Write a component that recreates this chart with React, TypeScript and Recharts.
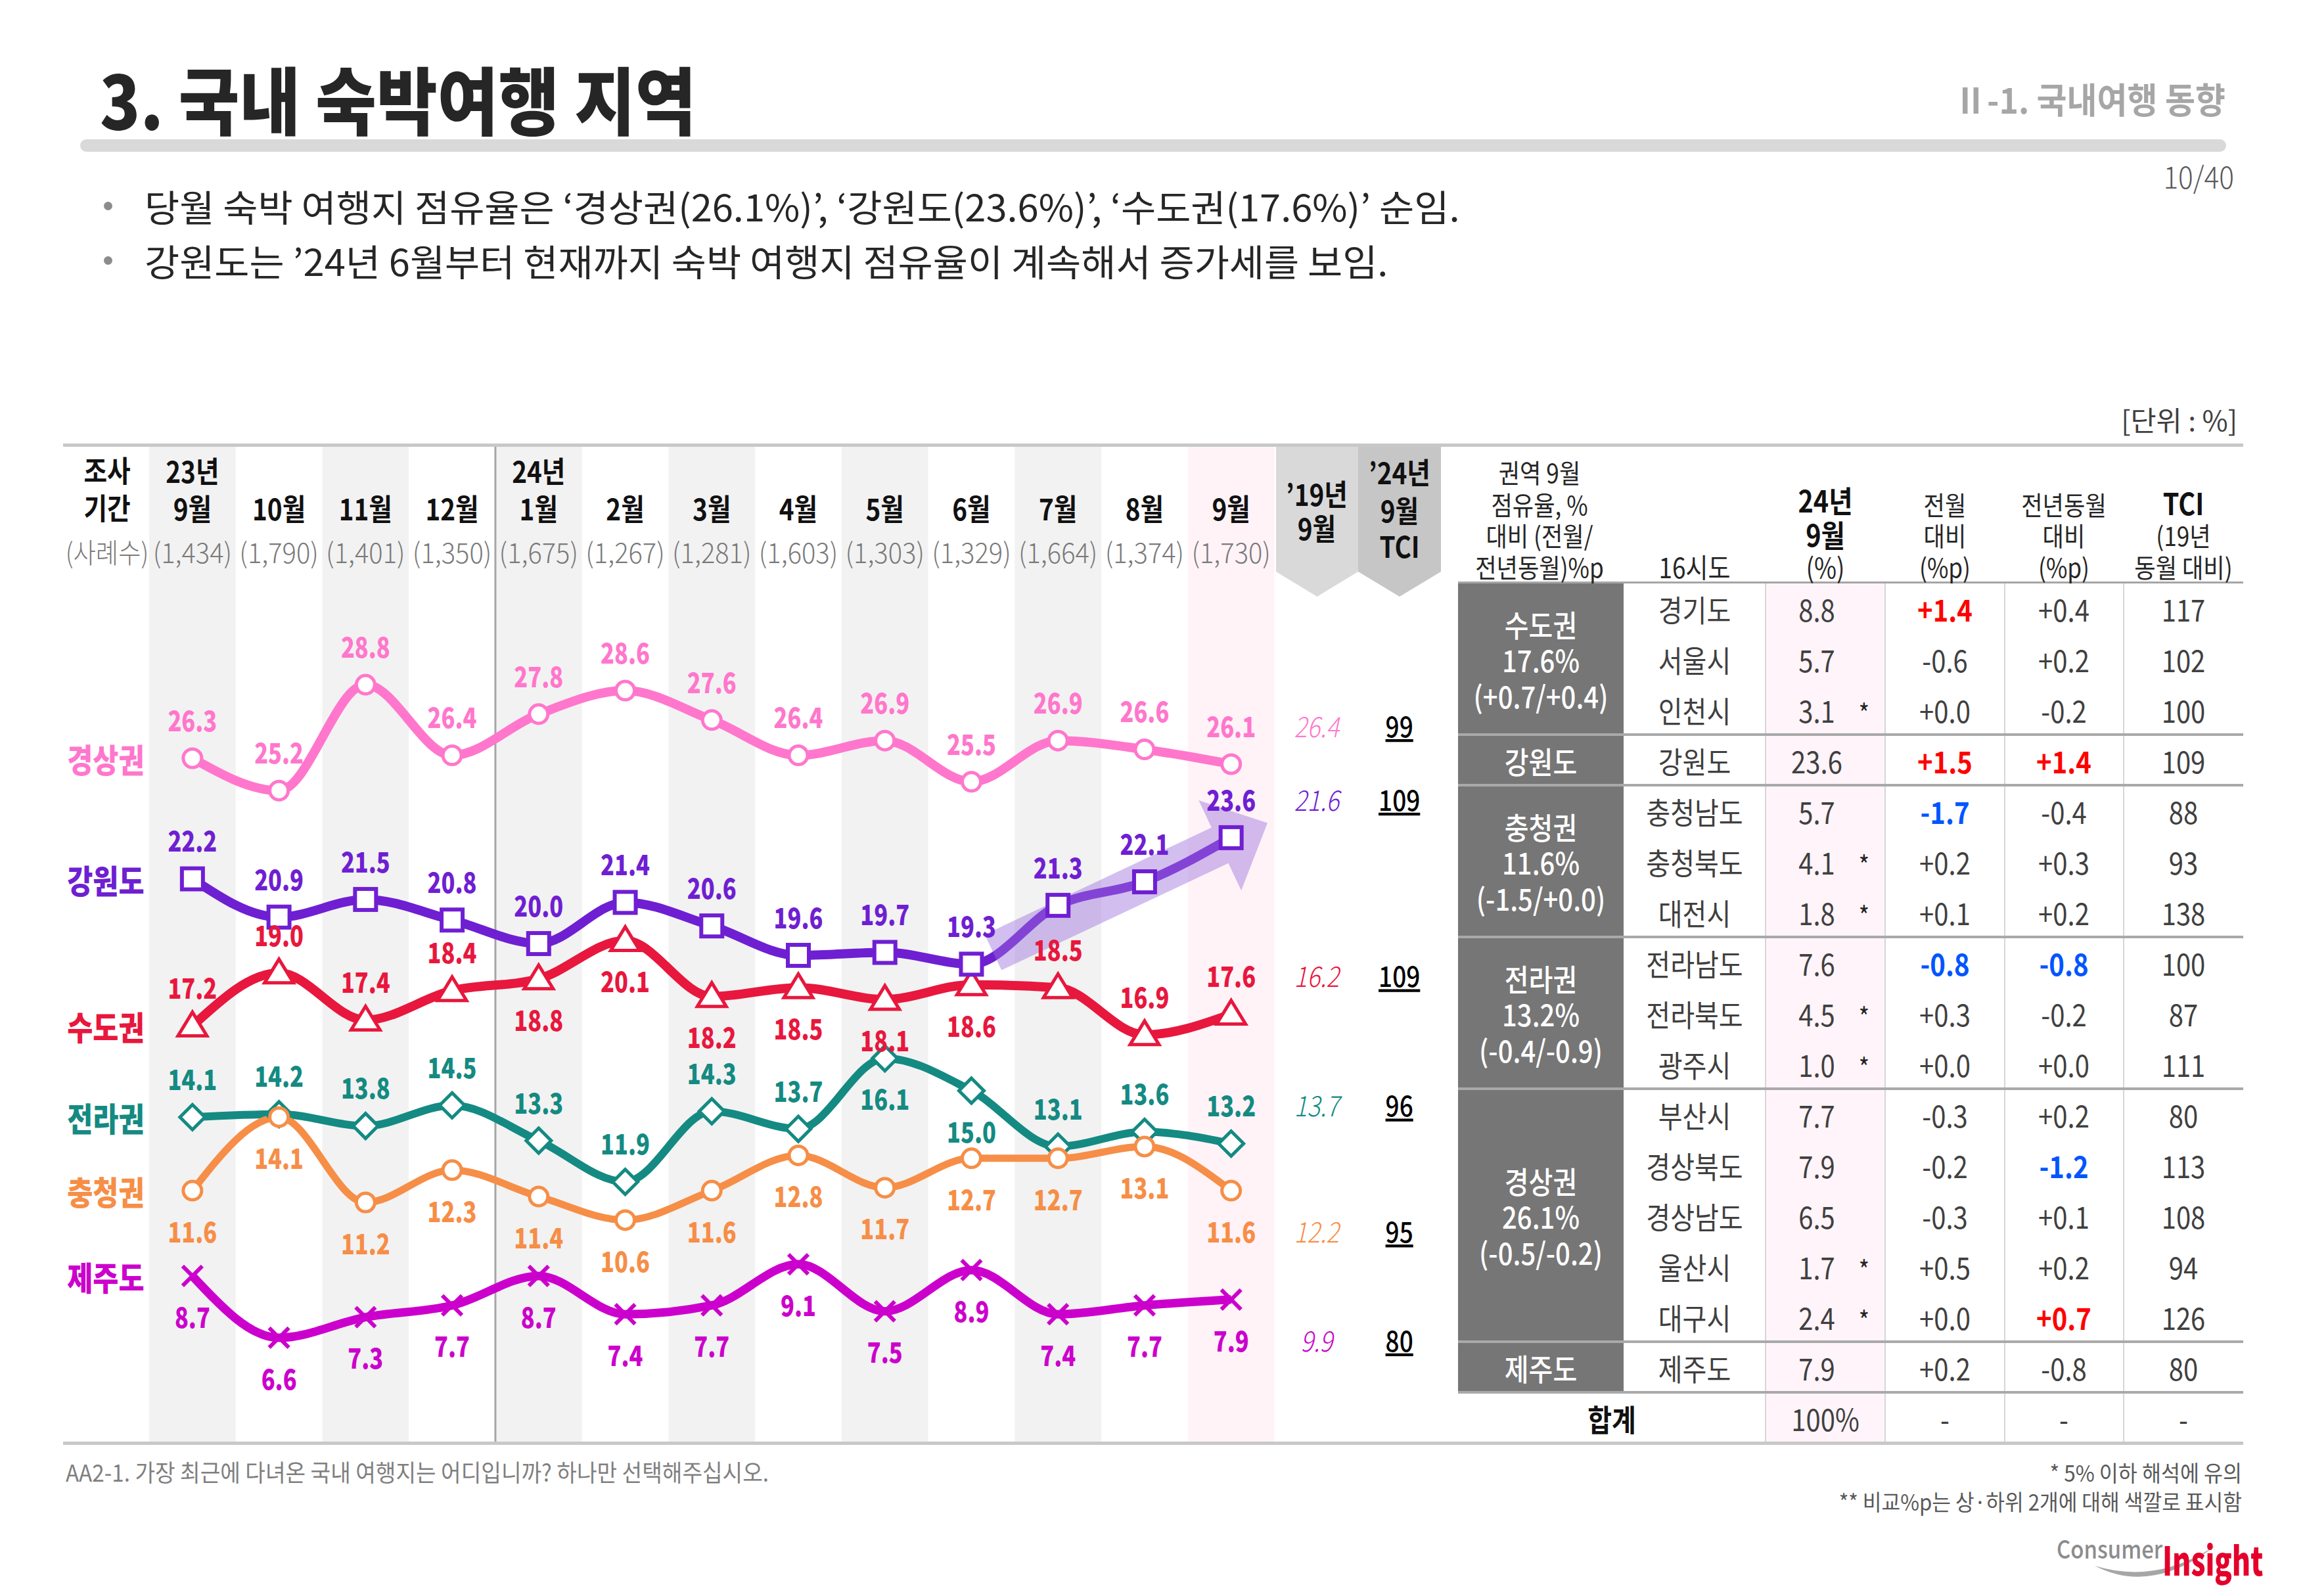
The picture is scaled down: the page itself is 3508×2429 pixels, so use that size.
import { useLayoutEffect, useRef, useState } from 'react';
import { LineChart, Line, XAxis, YAxis, ReferenceArea, ReferenceLine } from 'recharts';

// ---- chart data (23년 9월 ~ 24년 9월) ----
const months = ['9월', '10월', '11월', '12월', '1월', '2월', '3월', '4월', '5월', '6월', '7월', '8월', '9월'];
const yearTags = ['23년', '', '', '', '24년', '', '', '', '', '', '', '', ''];
const sampleSizes = ['(1,434)', '(1,790)', '(1,401)', '(1,350)', '(1,675)', '(1,267)', '(1,281)', '(1,603)', '(1,303)', '(1,329)', '(1,664)', '(1,374)', '(1,730)'];

const gyeongsang = [26.3, 25.2, 28.8, 26.4, 27.8, 28.6, 27.6, 26.4, 26.9, 25.5, 26.9, 26.6, 26.1];
const gangwon = [22.2, 20.9, 21.5, 20.8, 20.0, 21.4, 20.6, 19.6, 19.7, 19.3, 21.3, 22.1, 23.6];
const sudo = [17.2, 19.0, 17.4, 18.4, 18.8, 20.1, 18.2, 18.5, 18.1, 18.6, 18.5, 16.9, 17.6];
const jeolla = [14.1, 14.2, 13.8, 14.5, 13.3, 11.9, 14.3, 13.7, 16.1, 15.0, 13.1, 13.6, 13.2];
const chungcheong = [11.6, 14.1, 11.2, 12.3, 11.4, 10.6, 11.6, 12.8, 11.7, 12.7, 12.7, 13.1, 11.6];
const jeju = [8.7, 6.6, 7.3, 7.7, 8.7, 7.4, 7.7, 9.1, 7.5, 8.9, 7.4, 7.7, 7.9];

// '19년 9월 and '24년 9월 TCI, same order as the series below
const sep2019 = [26.4, 21.6, 16.2, 13.7, 12.2, 9.9];
const tci2024 = [99, 109, 109, 96, 95, 80];

// ---- table data ----
const groupNames = ['수도권', '강원도', '충청권', '전라권', '경상권', '제주도'];
const groupShares = ['17.6%', '', '11.6%', '13.2%', '26.1%', ''];
const groupChanges = ['(+0.7/+0.4)', '', '(-1.5/+0.0)', '(-0.4/-0.9)', '(-0.5/-0.2)', ''];
const groupSizes = [3, 1, 3, 3, 5, 1];
const provinces = ['경기도', '서울시', '인천시', '강원도', '충청남도', '충청북도', '대전시', '전라남도', '전라북도', '광주시', '부산시', '경상북도', '경상남도', '울산시', '대구시', '제주도'];
const provinceShare = [8.8, 5.7, 3.1, 23.6, 5.7, 4.1, 1.8, 7.6, 4.5, 1.0, 7.7, 7.9, 6.5, 1.7, 2.4, 7.9];
const lowBase = [0, 0, 1, 0, 0, 1, 1, 0, 1, 1, 0, 0, 0, 1, 1, 0];
const momChange = [1.4, -0.6, 0.0, 1.5, -1.7, 0.2, 0.1, -0.8, 0.3, 0.0, -0.3, -0.2, -0.3, 0.5, 0.0, 0.2];
const yoyChange = [0.4, 0.2, -0.2, 1.4, -0.4, 0.3, 0.2, -0.8, -0.2, 0.0, 0.2, -1.2, 0.1, 0.2, 0.7, -0.8];
const provinceTci = [117, 102, 100, 109, 88, 93, 138, 100, 87, 111, 80, 113, 108, 94, 126, 80];
const momMark = ['u', '', '', 'u', 'd', '', '', 'd', '', '', '', '', '', '', '', ''];
const yoyMark = ['', '', '', 'u', '', '', '', 'd', '', '', '', 'd', '', '', 'u', ''];

type Marker = 'circle' | 'square' | 'triangle' | 'diamond' | 'cross';
interface Series { key: string; name: string; values: number[]; color: string; width: number; marker: Marker; sides: string }

// sides: label above (u) or below (d) each point
const series: Series[] = [
  { key: 'gyeongsang', name: '경상권', values: gyeongsang, color: '#ff77cc', width: 14, marker: 'circle', sides: 'uuuuuuuuuuuuu' },
  { key: 'gangwon', name: '강원도', values: gangwon, color: '#6f1fd2', width: 14, marker: 'square', sides: 'uuuuuuuuuuuuu' },
  { key: 'sudo', name: '수도권', values: sudo, color: '#e8173d', width: 14, marker: 'triangle', sides: 'uuuudddddduuu' },
  { key: 'jeolla', name: '전라권', values: jeolla, color: '#148a82', width: 12, marker: 'diamond', sides: 'uuuuuuuudduuu' },
  { key: 'chungcheong', name: '충청권', values: chungcheong, color: '#f68e47', width: 11, marker: 'circle', sides: 'ddddddddddddd' },
  { key: 'jeju', name: '제주도', values: jeju, color: '#cc00cc', width: 13, marker: 'cross', sides: 'ddddddddddddd' },
];
// draw order: lower series first, orange above teal
const drawOrder = [3, 4, 2, 1, 0, 5];

const rows = months.map((m, i) => ({
  idx: i,
  month: m,
  gyeongsang: gyeongsang[i],
  gangwon: gangwon[i],
  sudo: sudo[i],
  jeolla: jeolla[i],
  chungcheong: chungcheong[i],
  jeju: jeju[i],
}));
const tickIdx = months.map((_, i) => i);
const grayBands = [0, 2, 4, 6, 8, 10];

const FONT = '"Noto Sans CJK KR", "Noto Sans", sans-serif';

// absolutely placed text, optionally squeezed to a target width
function Txt({ x, y, size, children, w, sx = 0.87, anchor = 'middle', weight = 400, color = '#262626', italic, underline }: {
  x: number; y: number; size: number; children: React.ReactNode; w?: number; sx?: number;
  anchor?: 'start' | 'middle' | 'end'; weight?: number; color?: string; italic?: boolean; underline?: boolean;
}) {
  const ref = useRef<HTMLDivElement>(null);
  const [k, setK] = useState(sx);
  useLayoutEffect(() => {
    if (w && ref.current) {
      const nat = ref.current.offsetWidth;
      if (nat > 0) setK(w / nat);
    }
  }, [w]);
  const tx = anchor === 'middle' ? '-50%' : anchor === 'end' ? '-100%' : '0';
  const origin = anchor === 'middle' ? 'center' : anchor === 'end' ? 'right' : 'left';
  return (
    <div
      ref={ref}
      style={{
        position: 'absolute', left: x, top: y, fontSize: size, lineHeight: 1, whiteSpace: 'nowrap',
        fontWeight: weight, color, fontStyle: italic ? 'italic' : 'normal',
        textDecoration: underline ? 'underline' : 'none',
        transform: `translate(${tx},-50%) scaleX(${k})`, transformOrigin: `${origin} center`,
      }}
    >
      {children}
    </div>
  );
}

function SvgText({ x, y, text, size, weight = 700, color, sx = 0.82, italic, underline }: {
  x: number; y: number; text: string; size: number; weight?: number; color: string; sx?: number; italic?: boolean; underline?: boolean;
}) {
  return (
    <g transform={`translate(${x},${y}) scale(${sx},1)`}>
      <text
        x={0} y={0} textAnchor="middle" dominantBaseline="central" fontSize={size} fontWeight={weight} fill={color}
        fontStyle={italic ? 'italic' : 'normal'} style={{ textDecoration: underline ? 'underline' : 'none' }}
      >
        {text}
      </text>
    </g>
  );
}

// month header drawn as the x-axis ticks (inside the plot, over the bands)
const HeaderTick = (p: any) => {
  const i = p.payload?.value as number;
  const x = p.x as number;
  if (months[i] === undefined) return <g />;
  return (
    <g>
      {yearTags[i] && <SvgText x={x} y={37} text={yearTags[i]} size={45} color="#111" sx={0.86} />}
      <SvgText x={x} y={94} text={months[i]} size={45} color="#111" sx={0.86} />
      <SvgText x={x} y={161} text={sampleSizes[i]} size={42} weight={300} color="#7a7a7a" sx={0.95} />
    </g>
  );
};

const markerFor = (s: Series) => (p: any) => {
  const { cx, cy, index } = p;
  const k = `m-${s.key}-${index}`;
  if (typeof cx !== 'number' || typeof cy !== 'number') return <g key={k} />;
  const c = s.color;
  switch (s.marker) {
    case 'square':
      return <rect key={k} x={cx - 16} y={cy - 16} width={32} height={32} fill="#fff" stroke={c} strokeWidth={6} />;
    case 'triangle':
      return <polygon key={k} points={`${cx},${cy - 21} ${cx + 22},${cy + 15} ${cx - 22},${cy + 15}`} fill="#fff" stroke={c} strokeWidth={5} />;
    case 'diamond':
      return <polygon key={k} points={`${cx},${cy - 19} ${cx + 19},${cy} ${cx},${cy + 19} ${cx - 19},${cy}`} fill="#fff" stroke={c} strokeWidth={5} />;
    case 'cross':
      return (
        <g key={k} stroke={c} strokeWidth={6}>
          <line x1={cx - 15} y1={cy - 15} x2={cx + 15} y2={cy + 15} />
          <line x1={cx - 15} y1={cy + 15} x2={cx + 15} y2={cy - 15} />
        </g>
      );
    default:
      return <circle key={k} cx={cx} cy={cy} r={14} fill="#fff" stroke={c} strokeWidth={5} />;
  }
};

const labelFor = (s: Series, si: number) => (p: any) => {
  const { cx, cy, index } = p;
  const k = `l-${s.key}-${index}`;
  if (typeof cx !== 'number' || typeof cy !== 'number') return <g key={k} />;
  const up = s.sides[index] === 'u';
  const ly = up ? cy - 60 : cy + 60;
  return (
    <g key={k}>
      <SvgText x={cx} y={ly} text={s.values[index].toFixed(1)} size={43} weight={800} color={s.color} sx={0.8} />
      {index === 0 && <SvgText x={cx - 132} y={cy} text={s.name} size={50} weight={800} color={s.color} sx={0.85} />}
      {index === months.length - 1 && (
        <>
          <SvgText x={cx + 130} y={ly} text={sep2019[si].toFixed(1)} size={43} weight={300} italic color={s.color} sx={0.86} />
          <SvgText x={cx + 256} y={ly} text={String(tci2024[si])} size={43} weight={500} underline color="#000" sx={0.86} />
        </>
      )}
    </g>
  );
};

const TrendArrow = (p: any) => {
  const { x1, y1, x2, y2 } = p;
  if ([x1, y1, x2, y2].some((v) => typeof v !== 'number')) return <g />;
  const len = Math.hypot(x2 - x1, y2 - y1);
  const ux = (x2 - x1) / len;
  const uy = (y2 - y1) / len;
  const nx = -uy;
  const ny = ux;
  const bw = 30, hw = 76, hl = 80;
  const bx = x2 - ux * hl;
  const by = y2 - uy * hl;
  const pts = [
    [x1 + nx * bw, y1 + ny * bw], [bx + nx * bw, by + ny * bw], [bx + nx * hw, by + ny * hw], [x2, y2],
    [bx - nx * hw, by - ny * hw], [bx - nx * bw, by - ny * bw], [x1 - nx * bw, y1 - ny * bw],
  ];
  return <polygon points={pts.map((q) => q.join(',')).join(' ')} fill="#9b70dc" fillOpacity={0.45} />;
};

const fmtSigned = (v: number) => (v >= 0 ? `+${v.toFixed(1)}` : v.toFixed(1));

// table geometry
const COLS = [2219, 2471, 2687, 2869, 3051, 3232, 3414];
const BODY_TOP = 887;
const ROW_H = 77;

function RegionTable() {
  const groupStarts = groupSizes.map((_, g) => groupSizes.slice(0, g).reduce((a, b) => a + b, 0));
  const rowY = (r: number) => BODY_TOP + r * ROW_H + ROW_H / 2;
  const cellColor = (m: string) => (m === 'u' ? '#ff0000' : m === 'd' ? '#0055ff' : '#404040');
  const totalRow = provinces.length;
  return (
    <>
      {/* pink current-month column */}
      <div style={{ position: 'absolute', left: COLS[2], top: BODY_TOP, width: COLS[3] - COLS[2], height: ROW_H * (totalRow + 1), background: '#fff4f9' }} />
      {/* region blocks */}
      {groupNames.map((g, gi) => (
        <div key={g} style={{ position: 'absolute', left: COLS[0], top: BODY_TOP + groupStarts[gi] * ROW_H, width: COLS[1] - COLS[0], height: groupSizes[gi] * ROW_H, background: '#767676' }} />
      ))}
      {/* vertical rules */}
      {COLS.slice(2, 6).map((x) => (
        <div key={x} style={{ position: 'absolute', left: x - 1, top: BODY_TOP, width: 2, height: ROW_H * (totalRow + 1), background: '#d6d6d6' }} />
      ))}
      {/* header rule and group rules */}
      <div style={{ position: 'absolute', left: COLS[0], top: BODY_TOP - 2, width: COLS[6] - COLS[0], height: 3, background: '#a6a6a6' }} />
      {groupSizes.map((_, gi) => (
        <div key={gi} style={{ position: 'absolute', left: COLS[0], top: BODY_TOP + (groupStarts[gi] + groupSizes[gi]) * ROW_H - 2, width: COLS[6] - COLS[0], height: 4, background: '#a9a9a9' }} />
      ))}

      {/* header */}
      <Txt x={2343} y={718} size={40} sx={0.88}>권역 9월</Txt>
      <Txt x={2343} y={767} size={40} sx={0.88}>점유율, %</Txt>
      <Txt x={2343} y={814} size={40} sx={0.88}>대비 (전월/</Txt>
      <Txt x={2343} y={862} size={40} sx={0.88}>전년동월)%p</Txt>
      <Txt x={2579} y={862} size={42} sx={0.88}>16시도</Txt>
      <Txt x={2778} y={760} size={46} weight={700} sx={0.86} color="#111">24년</Txt>
      <Txt x={2778} y={812} size={46} weight={700} sx={0.86} color="#111">9월</Txt>
      <Txt x={2778} y={862} size={42} sx={0.88}>(%)</Txt>
      <Txt x={2960} y={767} size={40} sx={0.88}>전월</Txt>
      <Txt x={2960} y={814} size={40} sx={0.88}>대비</Txt>
      <Txt x={2960} y={862} size={40} sx={0.88}>(%p)</Txt>
      <Txt x={3141} y={767} size={40} sx={0.88}>전년동월</Txt>
      <Txt x={3141} y={814} size={40} sx={0.88}>대비</Txt>
      <Txt x={3141} y={862} size={40} sx={0.88}>(%p)</Txt>
      <Txt x={3323} y={764} size={46} weight={700} sx={0.86} color="#111">TCI</Txt>
      <Txt x={3323} y={814} size={40} sx={0.88}>(19년</Txt>
      <Txt x={3323} y={862} size={40} sx={0.88}>동월 대비)</Txt>

      {/* region block labels */}
      {groupNames.map((g, gi) => {
        const cy = BODY_TOP + (groupStarts[gi] + groupSizes[gi] / 2) * ROW_H;
        const cx = (COLS[0] + COLS[1]) / 2;
        if (!groupShares[gi]) {
          return <Txt key={g} x={cx} y={cy} size={46} weight={500} color="#fff">{g}</Txt>;
        }
        return (
          <div key={g}>
            <Txt x={cx} y={cy - 54} size={46} weight={500} color="#fff">{g}</Txt>
            <Txt x={cx} y={cy} size={46} weight={500} color="#fff">{groupShares[gi]}</Txt>
            <Txt x={cx} y={cy + 55} size={46} weight={500} color="#fff">{groupChanges[gi]}</Txt>
          </div>
        );
      })}

      {/* rows */}
      {provinces.map((pv, r) => (
        <div key={pv}>
          <Txt x={2579} y={rowY(r)} size={46} color="#404040">{pv}</Txt>
          <Txt x={2765} y={rowY(r)} size={46} color="#404040">{provinceShare[r].toFixed(1)}</Txt>
          {lowBase[r] === 1 && <Txt x={2837} y={rowY(r) + 4} size={40} color="#222">*</Txt>}
          <Txt x={2960} y={rowY(r)} size={46} weight={momMark[r] ? 700 : 400} color={cellColor(momMark[r])}>{fmtSigned(momChange[r])}</Txt>
          <Txt x={3141} y={rowY(r)} size={46} weight={yoyMark[r] ? 700 : 400} color={cellColor(yoyMark[r])}>{fmtSigned(yoyChange[r])}</Txt>
          <Txt x={3323} y={rowY(r)} size={46} color="#404040">{provinceTci[r]}</Txt>
        </div>
      ))}
      <Txt x={(COLS[0] + COLS[2]) / 2} y={rowY(totalRow)} size={46} weight={700} color="#111">합계</Txt>
      <Txt x={2778} y={rowY(totalRow)} size={46} color="#404040">100%</Txt>
      {[2960, 3141, 3323].map((x) => (
        <Txt key={x} x={x} y={rowY(totalRow)} size={46} color="#404040">-</Txt>
      ))}
    </>
  );
}

export default function App() {
  return (
    <div style={{ position: 'relative', width: 3508, height: 2429, overflow: 'hidden', background: '#fff', fontFamily: FONT }}>
      <style>{'body{margin:0}'}</style>

      {/* title block */}
      <Txt x={152} y={148} size={112} weight={900} anchor="start" w={908} color="#262626">3. 국내 숙박여행 지역</Txt>
      <Txt x={3387} y={150} size={54} weight={700} anchor="end" w={413} color="#a6a6a6">Ⅱ-1. 국내여행 동향</Txt>
      <div style={{ position: 'absolute', left: 122, top: 212, width: 3266, height: 19, borderRadius: 10, background: '#d9d9d9' }} />
      <Txt x={3400} y={267} size={46} weight={300} anchor="end" w={108} color="#595959">10/40</Txt>
      <div style={{ position: 'absolute', left: 158, top: 307, width: 13, height: 13, borderRadius: 7, background: '#8c8c8c' }} />
      <div style={{ position: 'absolute', left: 158, top: 390, width: 13, height: 13, borderRadius: 7, background: '#8c8c8c' }} />
      <Txt x={220} y={313} size={56} anchor="start" w={2002} color="#262626">당월 숙박 여행지 점유율은 ‘경상권(26.1%)’, ‘강원도(23.6%)’, ‘수도권(17.6%)’ 순임.</Txt>
      <Txt x={220} y={396} size={56} anchor="start" w={1892} color="#262626">강원도는 ’24년 6월부터 현재까지 숙박 여행지 점유율이 계속해서 증가세를 보임.</Txt>
      <Txt x={3405} y={638} size={42} anchor="end" w={177} color="#404040">[단위 : %]</Txt>

      {/* chart: the x axis takes 1px at the top, so the plot starts at y=679 */}
      <div style={{ position: 'absolute', left: 96, top: 678, width: 2107, height: 1516 }}>
        <LineChart width={2107} height={1516} data={rows} margin={{ top: 0, right: 0, bottom: 0, left: 131 }}>
          {grayBands.map((i) => (
            <ReferenceArea key={i} x1={i - 0.5} x2={i + 0.5} fill="#f2f2f2" fillOpacity={1} stroke="none" />
          ))}
          <ReferenceArea x1={11.5} x2={12.5} fill="#fff3f8" fillOpacity={1} stroke="none" />
          <ReferenceLine x={3.5} stroke="#a6a6a6" strokeWidth={3} />
          <XAxis
            type="number" dataKey="idx" domain={[-0.5, 14.5]} ticks={tickIdx} interval={0}
            orientation="top" height={1} axisLine={false} tickLine={false} tick={(p: any) => <HeaderTick {...p} />}
          />
          <YAxis type="number" hide domain={[3.07, 36.91]} />
          {drawOrder.map((si) => {
            const s = series[si];
            return (
              <Line
                key={s.key} dataKey={s.key} type="monotone" stroke={s.color} strokeWidth={s.width}
                dot={markerFor(s)} activeDot={false} isAnimationActive={false}
              />
            );
          })}
          <ReferenceLine segment={[{ x: 9.25, y: 19.7 }, { x: 12.42, y: 24.1 }]} shape={TrendArrow} />
          {drawOrder.map((si) => {
            const s = series[si];
            return (
              <Line
                key={`${s.key}-labels`} dataKey={s.key} stroke="none" strokeWidth={0}
                dot={labelFor(s, si)} activeDot={false} isAnimationActive={false} legendType="none"
              />
            );
          })}
        </LineChart>
      </div>

      {/* chart header (left + comparison columns) */}
      <Txt x={163} y={714} size={45} weight={700} color="#111" sx={0.86}>조사</Txt>
      <Txt x={163} y={771} size={45} weight={700} color="#111" sx={0.86}>기간</Txt>
      <Txt x={163} y={839} size={42} weight={300} color="#7a7a7a" w={126}>(사례수)</Txt>
      <div style={{ position: 'absolute', left: 1942, top: 679, width: 125, height: 229, background: '#d9d9d9', clipPath: 'polygon(0 0,100% 0,100% 83.4%,50% 100%,0 83.4%)' }} />
      <div style={{ position: 'absolute', left: 2067, top: 679, width: 126, height: 229, background: '#c6c6c6', clipPath: 'polygon(0 0,100% 0,100% 83.4%,50% 100%,0 83.4%)' }} />
      <Txt x={2004} y={750} size={45} weight={700} color="#111" sx={0.86}>’19년</Txt>
      <Txt x={2004} y={802} size={45} weight={700} color="#111" sx={0.86}>9월</Txt>
      <Txt x={2130} y={717} size={45} weight={700} color="#111" sx={0.86}>’24년</Txt>
      <Txt x={2130} y={775} size={45} weight={700} color="#111" sx={0.86}>9월</Txt>
      <Txt x={2130} y={829} size={45} weight={700} color="#111" sx={0.86}>TCI</Txt>

      <RegionTable />

      {/* frame rules */}
      <div style={{ position: 'absolute', left: 96, top: 675, width: 3318, height: 5, background: '#c8c8c8' }} />
      <div style={{ position: 'absolute', left: 96, top: 2194, width: 3318, height: 5, background: '#c8c8c8' }} />

      {/* footnotes */}
      <Txt x={100} y={2239} size={36} anchor="start" w={1070} color="#7f7f7f">AA2-1. 가장 최근에 다녀온 국내 여행지는 어디입니까? 하나만 선택해주십시오.</Txt>
      <Txt x={3412} y={2241} size={34} anchor="end" w={293} color="#595959">* 5% 이하 해석에 유의</Txt>
      <Txt x={3412} y={2285} size={34} anchor="end" w={613} color="#595959">** 비교%p는 상·하위 2개에 대해 색깔로 표시함</Txt>

      {/* logo */}
      <svg style={{ position: 'absolute', left: 0, top: 0 }} width={3508} height={2429}>
        <path d="M3188,2383 Q3275,2428 3372,2352 Q3282,2412 3188,2383 Z" fill="#a6a6a6" />
      </svg>
      <Txt x={3130} y={2356} size={38} weight={500} anchor="start" w={161} color="#8c8c8c">Consumer</Txt>
      <Txt x={3291} y={2372} size={60} weight={900} anchor="start" w={153} color="#e4002b">Insight</Txt>
    </div>
  );
}
